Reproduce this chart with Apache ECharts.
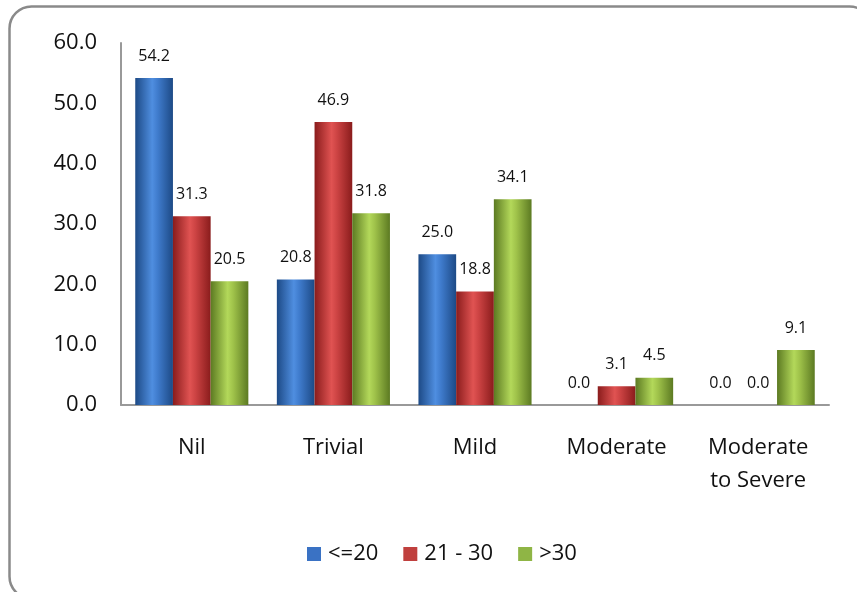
<!DOCTYPE html>
<html>
<head>
<meta charset="utf-8">
<script src="https://cdn.jsdelivr.net/npm/echarts@6/dist/echarts.min.js"></script>
<style>
  html, body { margin: 0; padding: 0; background: #fff; }
  #chart { width: 857px; height: 592px; }
</style>
</head>
<body>
<div id="chart"></div>
<script>
// Severity categories and the three groups plotted for each
const categories = ['Nil', 'Trivial', 'Mild', 'Moderate', 'Moderate\nto Severe'];
const groupNames = ['<=20', '21 - 30', '>30'];
const valuesLe20 = [54.2, 20.8, 25.0, 0.0, 0.0];
const values21to30 = [31.3, 46.9, 18.8, 3.1, 0.0];
const valuesGt30 = [20.5, 31.8, 34.1, 4.5, 9.1];
const yTicks = { min: 0, max: 60, interval: 10 };

const FONT = '"Open Sans", Lato, sans-serif';

// Cylinder-like shading: dark edges, bright middle
function shade(dark, light, mid) {
  return new echarts.graphic.LinearGradient(0, 0, 1, 0, [
    { offset: 0, color: dark },
    { offset: 0.45, color: light },
    { offset: 0.6, color: mid },
    { offset: 1, color: dark }
  ]);
}
const fills = [
  shade('#1d4a86', '#4f8ee0', '#3f7bcc'),
  shade('#8a1c1c', '#e05352', '#cc4343'),
  shade('#5c7a22', '#b3d85a', '#9fc24a')
];
const legendFills = ['#3a72c4', '#c0403e', '#8fb545'];

function barSeries(name, data, i) {
  return {
    name: name,
    type: 'bar',
    data: data,
    barWidth: 37.7,
    barGap: '0%',
    itemStyle: { color: fills[i] },
    label: {
      show: true,
      position: 'top',
      distance: 14,
      color: '#111',
      fontFamily: FONT,
      fontSize: 16,
      formatter: p => p.value.toFixed(1)
    }
  };
}

const chart = echarts.init(document.getElementById('chart'), null, { renderer: 'canvas' });
chart.setOption({
  animation: false,
  backgroundColor: '#fff',
  color: legendFills,
  graphic: [{
    type: 'rect',
    shape: { x: 9.5, y: 6.5, width: 862, height: 592, r: 22 },
    style: { fill: 'none', stroke: '#8a8a8a', lineWidth: 2.5 },
    silent: true,
    z: -1
  }],
  legend: {
    data: groupNames.map((n, i) => ({ name: n, itemStyle: { color: legendFills[i] } })),
    bottom: 22,
    left: 302,
    itemWidth: 14,
    itemHeight: 14,
    itemGap: 25,
    icon: 'rect',
    textStyle: { fontFamily: FONT, fontSize: 22, color: '#111', padding: [0, 0, 0, 2] }
  },
  grid: { left: 121, right: 28, top: 43, bottom: 187 },
  xAxis: {
    type: 'category',
    data: categories,
    axisLine: { lineStyle: { color: '#999', width: 2 } },
    axisTick: { show: false },
    axisLabel: {
      fontFamily: FONT, fontSize: 22, color: '#111', margin: 26,
      lineHeight: 33, interval: 0
    }
  },
  yAxis: {
    type: 'value',
    min: yTicks.min,
    max: yTicks.max,
    interval: yTicks.interval,
    axisLine: { show: true, lineStyle: { color: '#999', width: 2 } },
    axisTick: { show: false },
    splitLine: { show: false },
    axisLabel: {
      fontFamily: FONT, fontSize: 22, color: '#111', margin: 24,
      formatter: v => v.toFixed(1)
    }
  },
  series: [
    barSeries(groupNames[0], valuesLe20, 0),
    barSeries(groupNames[1], values21to30, 1),
    barSeries(groupNames[2], valuesGt30, 2)
  ]
});
</script>
</body>
</html>
